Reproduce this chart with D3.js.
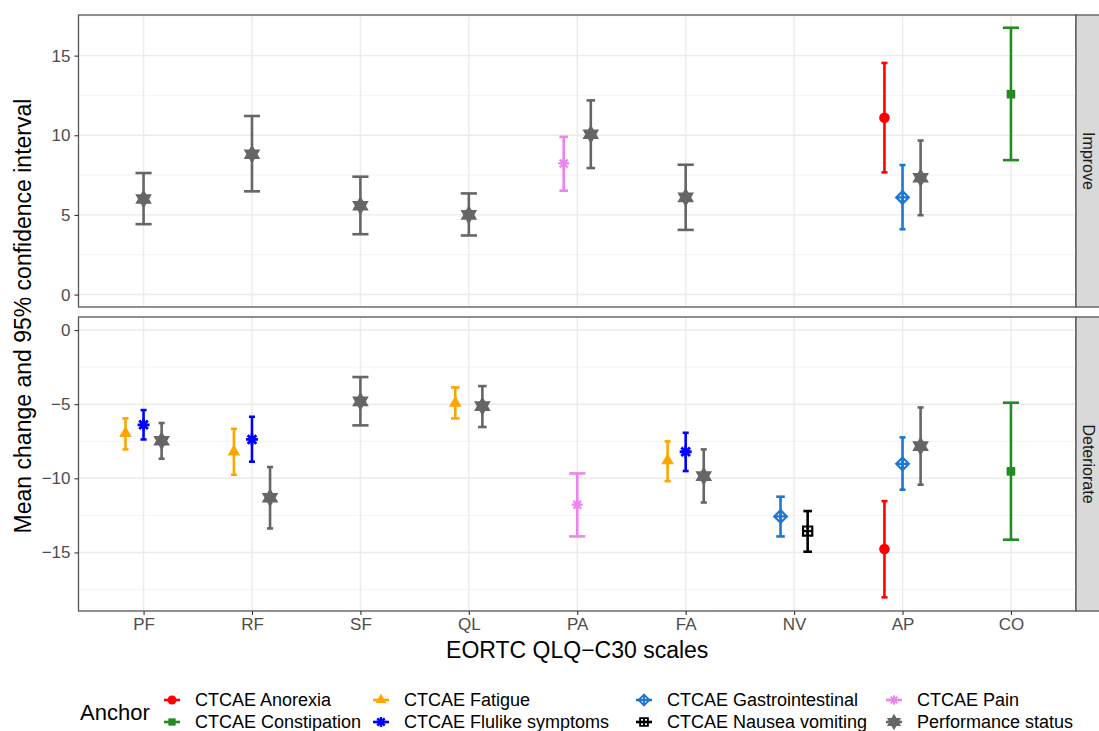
<!DOCTYPE html>
<html><head><meta charset="utf-8">
<script src="https://cdn.jsdelivr.net/npm/d3@7"></script>
<style>body{margin:0;background:#fff}svg{font-family:"Liberation Sans",Arial,Helvetica,sans-serif}</style>
</head><body><svg id="c" width="1099" height="731"></svg>
<script>
// ---------- data ----------
const scaleNames = ["PF","RF","SF","QL","PA","FA","NV","AP","CO"];
const anchors = ["CTCAE Anorexia","CTCAE Constipation","CTCAE Fatigue","CTCAE Flulike symptoms",
                 "CTCAE Gastrointestinal","CTCAE Nausea vomiting","CTCAE Pain","Performance status"];
const anchorColors = ["#FF0000","#228B22","#FFA500","#0000FF","#1C77D0","#000000","#EE82EE","#666666"];
const anchorShapes = ["circle","square","triangle","asterisk","diamondplus","squareplus","asteriskThin","hexagram"];
const panelNames = ["Improve","Deteriorate"];
const yTicksImprove = [0,5,10,15];
const yTicksDeteriorate = [0,-5,-10,-15];
// [scale, anchor, mean, lower, upper]
const improveData = [
  ["PF","Performance status",6.00,4.42,7.63],
  ["RF","Performance status",8.81,6.48,11.21],
  ["SF","Performance status",5.58,3.79,7.40],
  ["QL","Performance status",5.00,3.71,6.35],
  ["PA","CTCAE Pain",8.23,6.52,9.90],
  ["PA","Performance status",10.06,7.94,12.19],
  ["FA","Performance status",6.10,4.06,8.15],
  ["AP","CTCAE Anorexia",11.10,7.67,14.54],
  ["AP","CTCAE Gastrointestinal",6.10,4.10,8.13],
  ["AP","Performance status",7.33,4.98,9.67],
  ["CO","CTCAE Constipation",12.58,8.44,16.75]
];
const deteriorateData = [
  ["PF","CTCAE Fatigue",-6.97,-8.05,-5.96],
  ["PF","CTCAE Flulike symptoms",-6.39,-7.38,-5.40],
  ["PF","Performance status",-7.47,-8.68,-6.27],
  ["RF","CTCAE Fatigue",-8.21,-9.76,-6.66],
  ["RF","CTCAE Flulike symptoms",-7.38,-8.88,-5.85],
  ["RF","Performance status",-11.31,-13.38,-9.24],
  ["SF","Performance status",-4.81,-6.43,-3.17],
  ["QL","CTCAE Fatigue",-4.92,-5.96,-3.87],
  ["QL","Performance status",-5.13,-6.54,-3.78],
  ["PA","CTCAE Pain",-11.78,-13.92,-9.67],
  ["FA","CTCAE Fatigue",-8.81,-10.19,-7.51],
  ["FA","CTCAE Flulike symptoms",-8.21,-9.51,-6.93],
  ["FA","Performance status",-9.85,-11.63,-8.05],
  ["NV","CTCAE Gastrointestinal",-12.57,-13.92,-11.24],
  ["NV","CTCAE Nausea vomiting",-13.56,-14.95,-12.21],
  ["AP","CTCAE Anorexia",-14.77,-18.03,-11.54],
  ["AP","CTCAE Gastrointestinal",-9.02,-10.77,-7.24],
  ["AP","Performance status",-7.83,-10.43,-5.22],
  ["CO","CTCAE Constipation",-9.53,-14.14,-4.90]
];

// ---------- layout ----------
const svg = d3.select("#c");
const L = 78.5, R = 1076;
const panels = [
  {name: panelNames[0], data: improveData, ticks: yTicksImprove, top: 15, bottom: 307, domain: [-0.78, 17.55]},
  {name: panelNames[1], data: deteriorateData, ticks: yTicksDeteriorate, top: 317, bottom: 611, domain: [-18.95, 0.88]}
];
const x = d3.scalePoint().domain(scaleNames).range([L, R]).padding(0.6);
const step = x.step();
const color = a => anchorColors[anchors.indexOf(a)];
const shape = a => anchorShapes[anchors.indexOf(a)];

function drawMarker(g, a, cx, cy, k) {
  k = k || 1;
  const c = color(a), s = shape(a);
  const m = g.append("g").attr("transform", `translate(${cx},${cy}) scale(${k})`);
  if (s === "circle") m.append("circle").attr("r", 5.3).attr("fill", c);
  else if (s === "square") m.append("rect").attr("x", -4.3).attr("y", -4.3).attr("width", 8.6).attr("height", 8.6).attr("fill", c);
  else if (s === "triangle") m.append("path").attr("d", d3.symbol(d3.symbolTriangle, 70)()).attr("fill", c);
  else if (s === "asterisk" || s === "asteriskThin") {
    const r = s === "asterisk" ? 6 : 5.5, q = r * 0.72;
    m.append("path").attr("d", `M${-r},0L${r},0M0,${-r}L0,${r}M${-q},${-q}L${q},${q}M${-q},${q}L${q},${-q}`)
      .attr("stroke", c).attr("stroke-width", s === "asterisk" ? 2.8 : 2.2).attr("fill", "none");
  } else if (s === "diamondplus") {
    const r = 6.3;
    m.append("path").attr("d", `M0,${-r}L${r},0L0,${r}L${-r},0ZM${-r},0L${r},0M0,${-r}L0,${r}`)
      .attr("stroke", c).attr("stroke-width", 2.2).attr("fill", "none");
  } else if (s === "squareplus") {
    const r = 4.6;
    m.append("path").attr("d", `M${-r},${-r}L${r},${-r}L${r},${r}L${-r},${r}ZM${-r},0L${r},0M0,${-r}L0,${r}`)
      .attr("stroke", c).attr("stroke-width", 2.2).attr("fill", "none");
  } else if (s === "hexagram") {
    const r = 7.2, h = r * 0.866;
    m.append("path").attr("d", `M0,${-r}L${h},${r/2}L${-h},${r/2}ZM0,${r}L${-h},${-r/2}L${h},${-r/2}Z`)
      .attr("stroke", c).attr("stroke-width", 2.4).attr("stroke-linejoin", "miter").attr("fill", c);
  }
}

panels.forEach(p => {
  const y = d3.scaleLinear().domain(p.domain).range([p.bottom, p.top]);
  const g = svg.append("g");
  g.append("rect").attr("x", L).attr("y", p.top).attr("width", R - L).attr("height", p.bottom - p.top).attr("fill", "#fff");
  const minor = [];
  for (let v = -20; v <= 20; v += 5) { const mv = v + 2.5; if (mv > p.domain[0] && mv < p.domain[1]) minor.push(mv); }
  g.selectAll(".mn").data(minor).enter().append("line")
    .attr("x1", L).attr("x2", R).attr("y1", d => y(d)).attr("y2", d => y(d))
    .attr("stroke", "#F2F2F2").attr("stroke-width", 0.9);
  g.selectAll(".mj").data(p.ticks).enter().append("line")
    .attr("x1", L).attr("x2", R).attr("y1", d => y(d)).attr("y2", d => y(d))
    .attr("stroke", "#EBEBEB").attr("stroke-width", 1.4);
  g.selectAll(".vx").data(scaleNames).enter().append("line")
    .attr("x1", d => x(d)).attr("x2", d => x(d)).attr("y1", p.top).attr("y2", p.bottom)
    .attr("stroke", "#EBEBEB").attr("stroke-width", 1.4);

  const groups = d3.group(p.data, d => d[0]);
  groups.forEach((rows, sc) => {
    const sorted = rows.slice().sort((a, b) => anchors.indexOf(a[1]) - anchors.indexOf(b[1]));
    const n = sorted.length;
    sorted.forEach((d, i) => {
      const cx = x(sc) + step * 0.5 * ((i + 0.5) / n - 0.5);
      const hw = step * 0.14 / n / 2 + 0.5;
      const c = color(d[1]);
      const eb = g.append("g").attr("stroke", c).attr("stroke-width", 2.6).attr("fill", "none");
      eb.append("line").attr("x1", cx).attr("x2", cx).attr("y1", y(d[3])).attr("y2", y(d[4]));
      eb.append("line").attr("x1", cx - hw).attr("x2", cx + hw).attr("y1", y(d[3])).attr("y2", y(d[3]));
      eb.append("line").attr("x1", cx - hw).attr("x2", cx + hw).attr("y1", y(d[4])).attr("y2", y(d[4]));
      drawMarker(g, d[1], cx, y(d[2]));
    });
  });

  g.append("rect").attr("x", L).attr("y", p.top).attr("width", R - L).attr("height", p.bottom - p.top)
    .attr("fill", "none").attr("stroke", "#555").attr("stroke-width", 1.3);
  const ya = g.append("g").attr("transform", `translate(${L},0)`)
    .call(d3.axisLeft(y).tickValues(p.ticks).tickSize(4).tickPadding(4).tickFormat(d => d < 0 ? "\u2212" + Math.abs(d) : d));
  ya.select(".domain").remove();
  ya.selectAll("line").attr("stroke", "#333").attr("stroke-width", 1.1);
  ya.selectAll("text").attr("fill", "#4D4D4D").style("font-size", "17px").style("font-family", "Liberation Sans, Arial, sans-serif");
  g.append("rect").attr("x", R).attr("y", p.top).attr("width", 31).attr("height", p.bottom - p.top)
    .attr("fill", "#D9D9D9").attr("stroke", "#555").attr("stroke-width", 1.3);
  g.append("text").attr("transform", `translate(1082.5,${(p.top + p.bottom) / 2}) rotate(90)`)
    .attr("text-anchor", "middle").attr("fill", "#1A1A1A").style("font-size", "16px").text(p.name);
});

const xa = svg.append("g").attr("transform", `translate(0,${panels[1].bottom})`)
  .call(d3.axisBottom(x).tickSize(4).tickPadding(3));
xa.select(".domain").remove();
xa.selectAll("line").attr("stroke", "#333").attr("stroke-width", 1.1);
xa.selectAll("text").attr("fill", "#4D4D4D").style("font-size", "17px").style("font-family", "Liberation Sans, Arial, sans-serif");

svg.append("text").attr("x", (L + R) / 2).attr("y", 658).attr("text-anchor", "middle")
  .style("font-size", "23px").attr("fill", "#000").text("EORTC QLQ\u2212C30 scales");
svg.append("text").attr("transform", `translate(31,316) rotate(-90)`)
  .attr("text-anchor", "middle").style("font-size", "23px").attr("fill", "#000").text("Mean change and 95% confidence interval");

const lg = svg.append("g");
lg.append("text").attr("x", 80).attr("y", 712).attr("dy", "0.35em").style("font-size", "22px").text("Anchor");
const colText = [195, 404, 667, 917];
const rowY = [700, 722];
anchors.forEach((a, i) => {
  const col = Math.floor(i / 2), row = i % 2;
  const tx = colText[col], ty = rowY[row], kx = tx - 23;
  lg.append("line").attr("x1", kx - 8).attr("x2", kx + 8).attr("y1", ty).attr("y2", ty)
    .attr("stroke", color(a)).attr("stroke-width", 2.6);
  drawMarker(lg, a, kx, ty, 0.85);
  lg.append("text").attr("x", tx).attr("y", ty).attr("dy", "0.35em").style("font-size", "18px").attr("fill", "#000").text(a);
});
</script></body></html>
